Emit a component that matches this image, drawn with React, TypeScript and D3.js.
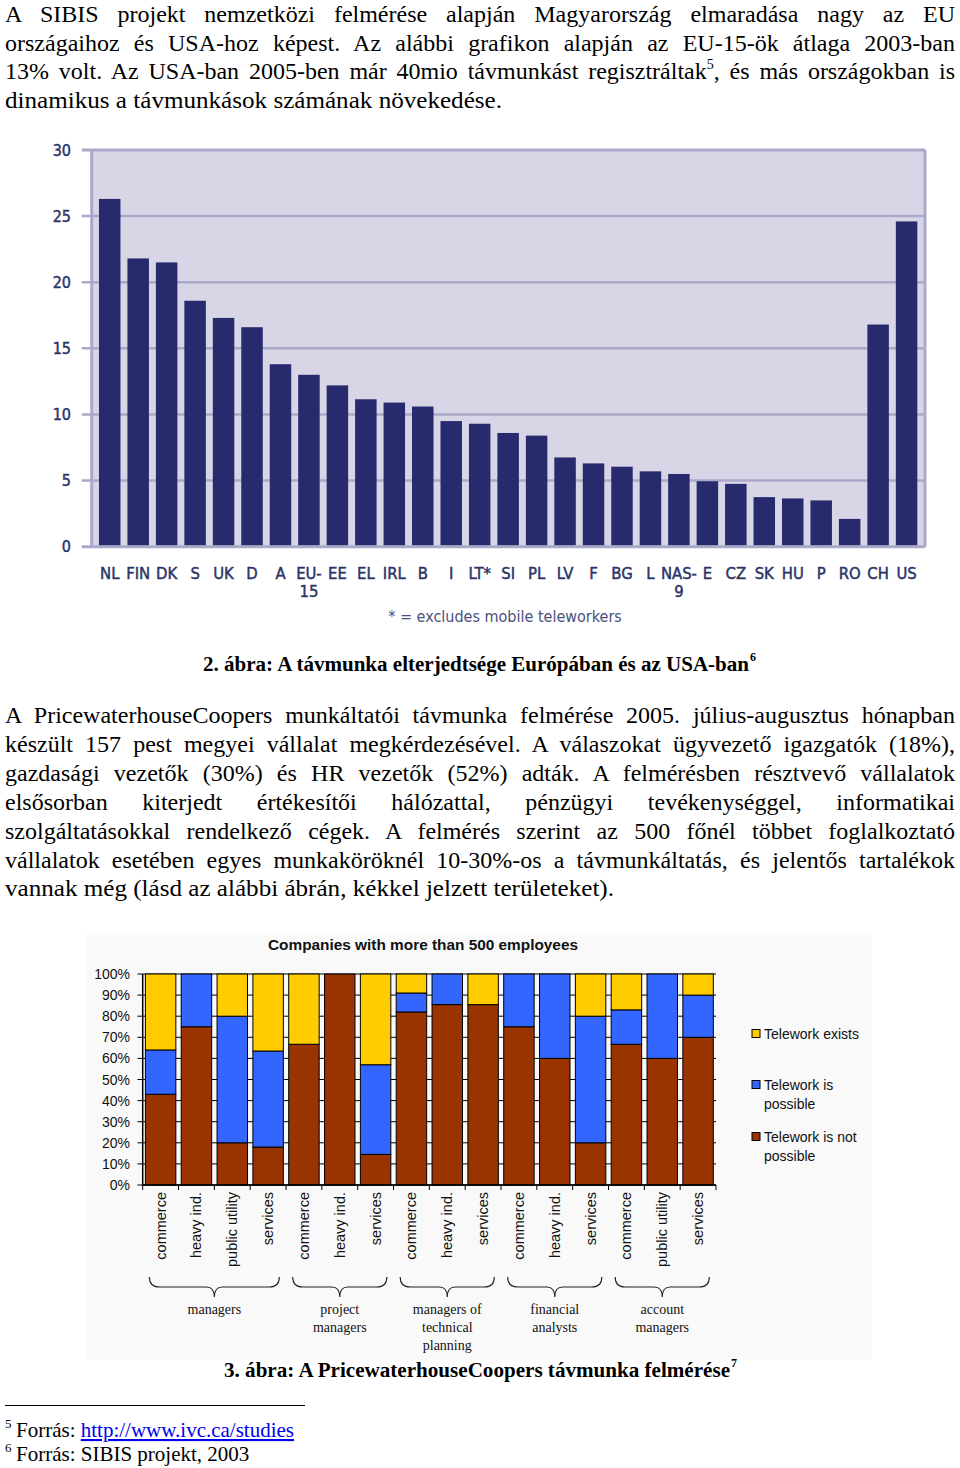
import React, { useEffect, useRef } from "react";
import * as d3 from "d3";

// ---------- Chart 1 data (SIBIS 2003, telework %) ----------
const countries = ["NL", "FIN", "DK", "S", "UK", "D", "A", "EU-15", "EE", "EL", "IRL", "B", "I", "LT*", "SI", "PL", "LV", "F", "BG", "L", "NAS-9", "E", "CZ", "SK", "HU", "P", "RO", "CH", "US"];
const teleworkShare = [26.3, 21.8, 21.5, 18.6, 17.3, 16.6, 13.8, 13.0, 12.2, 11.15, 10.9, 10.6, 9.5, 9.3, 8.6, 8.4, 6.75, 6.3, 6.05, 5.7, 5.5, 4.95, 4.75, 3.75, 3.65, 3.5, 2.1, 16.8, 24.6];
const yTicks1 = [0, 5, 10, 15, 20, 25, 30];
const chart1Note = "* = excludes mobile teleworkers";

// ---------- Chart 2 data (PwC 2005) ----------
const jobCategories = ["commerce", "heavy ind.", "public utility", "services", "commerce", "heavy ind.", "services", "commerce", "heavy ind.", "services", "commerce", "heavy ind.", "services", "commerce", "public utility", "services"];
const notPossible = [43, 75, 20, 18, 66.7, 100, 14.5, 82, 85.5, 85.5, 75, 60, 20, 66.7, 60, 70];
const possible = [21, 25, 60, 45.5, 0, 0, 42.5, 9, 14.5, 0, 25, 40, 60, 16.3, 40, 20];
const exists = [36, 0, 20, 36.5, 33.3, 0, 43, 9, 0, 14.5, 0, 0, 20, 17, 0, 10];
const yTicks2 = [0, 10, 20, 30, 40, 50, 60, 70, 80, 90, 100];
const groupLines = [["managers"], ["project", "managers"], ["managers of", "technical", "planning"], ["financial", "analysts"], ["account", "managers"]];
const groupSizes = [4, 3, 3, 3, 3];
const seriesKeys = ["notPossible", "possible", "exists"];
const seriesColors = ["#993300", "#3366ff", "#ffcc00"];
const legendLines = [["Telework exists"], ["Telework is", "possible"], ["Telework is not", "possible"]];
const chart2Title = "Companies with more than 500 employees";

// ---------- Text ----------
const para1 = [
  "A SIBIS projekt nemzetközi felmérése alapján Magyarország elmaradása nagy az EU",
  "országaihoz és USA-hoz képest. Az alábbi grafikon alapján az EU-15-ök átlaga 2003-ban",
  "13% volt. Az USA-ban 2005-ben már 40mio távmunkást regisztráltak|5|, és más országokban is",
  "dinamikus a távmunkások számának növekedése.",
];
const para2 = [
  "A PricewaterhouseCoopers munkáltatói távmunka felmérése 2005. július-augusztus hónapban",
  "készült 157 pest megyei vállalat megkérdezésével. A válaszokat ügyvezető igazgatók (18%),",
  "gazdasági vezetők (30%) és HR vezetők (52%) adták. A felmérésben résztvevő vállalatok",
  "elsősorban kiterjedt értékesítői hálózattal, pénzügyi tevékenységgel, informatikai",
  "szolgáltatásokkal rendelkező cégek. A felmérés szerint az 500 főnél többet foglalkoztató",
  "vállalatok esetében egyes munkaköröknél 10-30%-os a távmunkáltatás, és jelentős tartalékok",
  "vannak még (lásd az alábbi ábrán, kékkel jelzett területeket).",
];
const caption2 = "2. ábra: A távmunka elterjedtsége Európában és az USA-ban";
const caption3 = "3. ábra: A PricewaterhouseCoopers távmunka felmérése";

const SERIF = "'Liberation Serif', 'Times New Roman', serif";
const ARIAL = "'Liberation Sans', Arial, sans-serif";
const NARROW = "'Liberation Sans Narrow', 'Arial Narrow', 'DejaVu Sans Condensed', sans-serif";

function BodyLine({ text, y, width, justify }: { text: string; y: number; width: number; justify: boolean }) {
  const parts = text.split("|");
  const props: any = justify
    ? { className: "justify", "data-width": width }
    : { textLength: width, lengthAdjust: "spacingAndGlyphs" };
  return (
    <text x={5} y={y} fontFamily={SERIF} fontSize={24} fill="#000" {...props}>
      {parts.length === 1
        ? text
        : [
            <tspan key="a">{parts[0]}</tspan>,
            <tspan key="b" dy={-10} fontSize={14}>{parts[1]}</tspan>,
            <tspan key="c" dy={10}>{parts[2]}</tspan>,
          ]}
    </text>
  );
}

function Chart1() {
  const left = 91.7, right = 925, top = 150, bottom = 546.7;
  const x = d3.scaleBand<string>().domain(countries).range([93, 923.3]).paddingInner(0.245).paddingOuter(0.21);
  const y = d3.scaleLinear().domain([0, 30]).range([bottom, top]);
  const grid = "#aba9c9";
  const labelColor = "#2b3468";
  return (
    <g>
      <rect x={left} y={top} width={right - left} height={bottom - top} fill="#d8d6e6" />
      {yTicks1.map((t) => (
        <line key={t} x1={81.7} x2={right} y1={y(t)} y2={y(t)} stroke={grid} strokeWidth={t === 0 || t === 30 ? 3 : 2.5} />
      ))}
      <line x1={left} x2={left} y1={top} y2={bottom} stroke={grid} strokeWidth={3} />
      <line x1={right} x2={right} y1={top} y2={bottom} stroke={grid} strokeWidth={3} />
      {countries.map((c, i) => (
        <rect key={c} x={x(c)} y={y(teleworkShare[i])} width={x.bandwidth()} height={y(0) - y(teleworkShare[i]) - 1.5} fill="#272a6c" />
      ))}
      {yTicks1.map((t) => (
        <text key={t} x={71} y={y(t)} dy="0.36em" textAnchor="end" fontFamily={NARROW} fontSize={16} fill={labelColor} stroke={labelColor} strokeWidth={0.45}>{t}</text>
      ))}
      {countries.map((c) => {
        const cx = x(c)! + x.bandwidth() / 2;
        const m = c.match(/^(.*-)(.+)$/);
        return (
          <g key={c} fontFamily={NARROW} fontSize={16.5} fill={labelColor} stroke={labelColor} strokeWidth={0.45} textAnchor="middle">
            <text x={cx} y={579}>{m ? m[1] : c}</text>
            {m && <text x={cx} y={597}>{m[2]}</text>}
          </g>
        );
      })}
      <text x={505} y={622} textAnchor="middle" fontFamily={NARROW} fontSize={16} fill="#4b507c">{chart1Note}</text>
    </g>
  );
}

function Chart2() {
  const left = 142.7, right = 716, top = 974, bottom = 1185;
  const idx = jobCategories.map((_, i) => String(i));
  const x = d3.scaleBand<string>().domain(idx).range([left, right]).paddingInner(0.15).paddingOuter(0.075);
  const y = d3.scaleLinear().domain([0, 100]).range([bottom, top]);
  const rows = jobCategories.map((_, i) => ({ notPossible: notPossible[i], possible: possible[i], exists: exists[i] }));
  const stacked = d3.stack<any>().keys(seriesKeys)(rows);
  const step = x.step();
  let acc = 0;
  const groups = groupSizes.map((n, g) => {
    const s = acc;
    acc += n;
    return { s, e: acc - 1, lines: groupLines[g] };
  });
  return (
    <g>
      <rect x={86} y={933} width={786} height={427} fill="#f9f9f9" />
      <text x={423} y={950} textAnchor="middle" fontFamily={ARIAL} fontWeight="bold" fontSize={15} fill="#111" textLength={310} lengthAdjust="spacingAndGlyphs">{chart2Title}</text>
      {yTicks2.map((t) => (
        <g key={t}>
          <line x1={137.5} x2={right} y1={y(t)} y2={y(t)} stroke="#000" strokeWidth={1} />
          <text x={130} y={y(t)} dy="0.36em" textAnchor="end" fontFamily={ARIAL} fontSize={14} fill="#111">{t}%</text>
        </g>
      ))}
      {stacked.map((layer, li) =>
        layer.map((d, i) =>
          d[1] - d[0] > 0 ? (
            <rect key={li + "-" + i} x={x(String(i))} y={y(d[1])} width={x.bandwidth()} height={y(d[0]) - y(d[1])} fill={seriesColors[li]} stroke="#000" strokeWidth={1} />
          ) : null
        )
      )}
      <line x1={left} x2={left} y1={top} y2={bottom} stroke="#000" strokeWidth={1.5} />
      <line x1={left} x2={right} y1={bottom} y2={bottom} stroke="#000" strokeWidth={1.5} />
      {d3.range(jobCategories.length + 1).map((i) => (
        <line key={i} x1={left + i * step} x2={left + i * step} y1={bottom} y2={bottom + 5} stroke="#000" strokeWidth={1} />
      ))}
      {jobCategories.map((c, i) => {
        const cx = x(String(i))! + x.bandwidth() / 2;
        return (
          <text key={i} transform={`translate(${cx + 5},${1192}) rotate(-90)`} textAnchor="end" fontFamily={ARIAL} fontSize={14.5} fill="#111">{c}</text>
        );
      })}
      {groups.map((g, gi) => {
        const x0 = x(String(g.s))! + 4;
        const x1 = x(String(g.e))! + x.bandwidth() - 4;
        const xm = (x0 + x1) / 2;
        const y0 = 1277, y1 = 1287, y2 = 1297;
        const p = `M${x0},${y0} Q${x0},${y1} ${x0 + 10},${y1} L${xm - 8},${y1} Q${xm},${y1} ${xm},${y2} Q${xm},${y1} ${xm + 8},${y1} L${x1 - 10},${y1} Q${x1},${y1} ${x1},${y0}`;
        return (
          <g key={gi}>
            <path d={p} fill="none" stroke="#222" strokeWidth={1.1} />
            {g.lines.map((l, li) => (
              <text key={li} x={xm} y={1314 + li * 18} textAnchor="middle" fontFamily={SERIF} fontSize={14} fill="#111">{l}</text>
            ))}
          </g>
        );
      })}
      {legendLines.map((lines, i) => {
        const yc = [1034, 1085, 1137][i];
        return (
          <g key={i}>
            <rect x={752} y={yc - 4.5} width={8} height={8} fill={seriesColors[2 - i]} stroke="#000" strokeWidth={1} />
            {lines.map((l, li) => (
              <text key={li} x={764} y={yc + li * 19} dy="0.36em" fontFamily={ARIAL} fontSize={14} fill="#111">{l}</text>
            ))}
          </g>
        );
      })}
    </g>
  );
}

export default function App() {
  const svgRef = useRef<SVGSVGElement>(null);
  useEffect(() => {
    const run = () => {
      const svg = svgRef.current;
      if (!svg) return;
      d3.select(svg)
        .selectAll<SVGTextElement, unknown>("text.justify")
        .each(function () {
          this.setAttribute("word-spacing", "0");
          const target = +(this.getAttribute("data-width") || 0);
          const natural = this.getComputedTextLength();
          const spaces = ((this.textContent || "").match(/ /g) || []).length;
          if (spaces > 0) this.setAttribute("word-spacing", String((target - natural) / spaces));
        });
    };
    run();
    if ((document as any).fonts) (document as any).fonts.ready.then(run);
  }, []);

  return (
    <svg ref={svgRef} width={960} height={1468} style={{ position: "absolute", left: 0, top: 0, background: "#fff" }}>
      <rect width={960} height={1468} fill="#fff" />
      {para1.map((l, i) => (
        <BodyLine key={i} text={l} y={22 + i * 28.6} width={i === para1.length - 1 ? 497 : 950} justify={i !== para1.length - 1} />
      ))}
      <Chart1 />
      <text x={203} y={671} fontFamily={SERIF} fontWeight="bold" fontSize={20} fill="#000" textLength={546} lengthAdjust="spacingAndGlyphs">{caption2}</text>
      <text x={750} y={661} fontFamily={SERIF} fontWeight="bold" fontSize={12} fill="#000">6</text>
      {para2.map((l, i) => (
        <BodyLine key={i} text={l} y={723 + i * 28.9} width={i === para2.length - 1 ? 609 : 950} justify={i !== para2.length - 1} />
      ))}
      <Chart2 />
      <text x={224} y={1377} fontFamily={SERIF} fontWeight="bold" fontSize={20} fill="#000" textLength={506} lengthAdjust="spacingAndGlyphs">{caption3}</text>
      <text x={731} y={1367} fontFamily={SERIF} fontWeight="bold" fontSize={12} fill="#000">7</text>
      <line x1={5} x2={305} y1={1405.5} y2={1405.5} stroke="#000" strokeWidth={1} />
      <text x={5} y={1428} fontFamily={SERIF} fontSize={13} fill="#000">5</text>
      <text x={16} y={1437} fontFamily={SERIF} fontSize={21} fill="#000">
        Forrás: <tspan fill="#0000ee" style={{ textDecoration: "underline" }}>http://www.ivc.ca/studies</tspan>
      </text>
      <text x={5} y={1452} fontFamily={SERIF} fontSize={13} fill="#000">6</text>
      <text x={16} y={1461} fontFamily={SERIF} fontSize={21} fill="#000">Forrás: SIBIS projekt, 2003</text>
    </svg>
  );
}
